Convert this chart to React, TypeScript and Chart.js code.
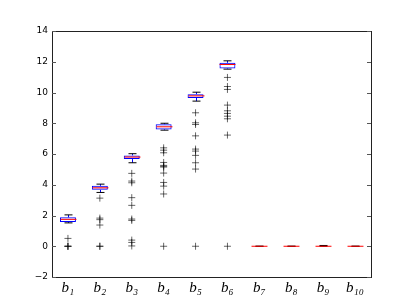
import React, { useEffect, useRef } from 'react';
import { Chart, registerables } from 'chart.js';

Chart.register(...registerables);

const categories = ['b₁', 'b₂', 'b₃', 'b₄', 'b₅', 'b₆', 'b₇', 'b₈', 'b₉', 'b₁₀'];
const whiskerLow = [1.52, 3.5, 5.43, 7.55, 9.44, 11.52, 0, 0, 0, 0];
const q1 = [1.58, 3.67, 5.67, 7.6, 9.65, 11.56, 0, 0, 0, 0];
const median = [1.75, 3.8, 5.8, 7.77, 9.78, 11.82, 0, 0, 0, 0];
const q3 = [1.88, 3.93, 5.91, 7.94, 9.89, 11.93, 0, 0, 0, 0];
const whiskerHigh = [2.04, 4.04, 6.02, 8.0, 10.02, 12.06, 0, 0, 0.05, 0];
const outliers: number[][] = [
  [0.51, 0, 0, 0],
  [3.13, 1.83, 1.73, 1.38, 0, 0],
  [4.74, 4.24, 4.13, 3.16, 2.66, 1.77, 1.68, 0.4, 0.25, 0.02],
  [6.4, 6.25, 6.08, 5.45, 5.26, 5.2, 5.15, 4.76, 4.15, 3.91, 3.4, 0],
  [8.68, 8.03, 7.92, 7.18, 6.32, 6.19, 5.91, 5.43, 5.02, 0],
  [10.98, 10.39, 10.2, 9.18, 8.81, 8.64, 8.46, 8.29, 7.23, 0],
  [],
  [],
  [],
  [],
];
const yMin = -2;
const yMax = 14;
const yStep = 2;

const boxParts = {
  id: 'boxParts',
  beforeDatasetsDraw(chart: any) {
    const { ctx, scales } = chart;
    const x = scales.x;
    const y = scales.y;
    const meta = chart.getDatasetMeta(0);
    ctx.save();
    ctx.lineWidth = 1;
    categories.forEach((_, i) => {
      const el = meta.data[i];
      const w = el ? el.width : 16;
      const cx = Math.round(x.getPixelForValue(i)) + 0.5;
      ctx.strokeStyle = '#0000ff';
      ctx.setLineDash([4, 2]);
      ctx.beginPath();
      ctx.moveTo(cx, y.getPixelForValue(q3[i]));
      ctx.lineTo(cx, y.getPixelForValue(whiskerHigh[i]));
      ctx.moveTo(cx, y.getPixelForValue(q1[i]));
      ctx.lineTo(cx, y.getPixelForValue(whiskerLow[i]));
      ctx.stroke();
      ctx.setLineDash([]);
      ctx.strokeStyle = '#000000';
      ctx.beginPath();
      const yh = y.getPixelForValue(whiskerHigh[i]);
      const yl = y.getPixelForValue(whiskerLow[i]);
      ctx.moveTo(cx - w / 4, yh);
      ctx.lineTo(cx + w / 4, yh);
      ctx.moveTo(cx - w / 4, yl);
      ctx.lineTo(cx + w / 4, yl);
      ctx.stroke();
    });
    ctx.restore();
  },
  afterDatasetsDraw(chart: any) {
    const { ctx, scales } = chart;
    const x = scales.x;
    const y = scales.y;
    const meta = chart.getDatasetMeta(0);
    ctx.save();
    ctx.lineWidth = 1;
    ctx.strokeStyle = '#ff0000';
    categories.forEach((_, i) => {
      const el = meta.data[i];
      const w = el ? el.width : 16;
      const cx = Math.round(x.getPixelForValue(i)) + 0.5;
      const ym = y.getPixelForValue(median[i]);
      ctx.beginPath();
      ctx.moveTo(cx - w / 2, ym);
      ctx.lineTo(cx + w / 2, ym);
      ctx.stroke();
    });
    ctx.restore();
  },
  afterDraw(chart: any) {
    const { ctx, chartArea, scales } = chart;
    const y = scales.y;
    const { left, right, top, bottom } = chartArea;
    ctx.save();
    ctx.strokeStyle = '#222222';
    ctx.lineWidth = 1;
    ctx.strokeRect(Math.round(left) + 0.5, Math.round(top) + 0.5, Math.round(right - left), Math.round(bottom - top));
    ctx.strokeStyle = '#555555';
    ctx.beginPath();
    for (let v = yMin; v <= yMax; v += yStep) {
      const py = Math.round(y.getPixelForValue(v)) + 0.5;
      ctx.moveTo(left, py);
      ctx.lineTo(left + 4, py);
      ctx.moveTo(right - 4, py);
      ctx.lineTo(right, py);
    }
    ctx.stroke();
    ctx.restore();
  },
};

export default function App() {
  const ref = useRef<HTMLCanvasElement | null>(null);
  useEffect(() => {
    if (!ref.current) return;
    const flierData: { x: string; y: number }[] = [];
    outliers.forEach((arr, i) => arr.forEach((v) => flierData.push({ x: categories[i], y: v })));
    const chart = new Chart(ref.current, {
      type: 'bar',
      data: {
        labels: categories,
        datasets: [
          {
            type: 'bar',
            data: categories.map((_, i) => [q1[i], q3[i]]) as any,
            backgroundColor: 'rgba(255,255,255,0)',
            borderColor: '#0000ff',
            borderWidth: 1,
            borderSkipped: false,
            barPercentage: 0.5,
            categoryPercentage: 1,
          } as any,
          {
            type: 'scatter',
            data: flierData as any,
            pointStyle: 'cross',
            radius: 3.5,
            borderColor: 'rgba(0,0,0,0.6)',
            backgroundColor: 'rgba(0,0,0,0.6)',
            borderWidth: 1,
            showLine: false,
          } as any,
        ],
      },
      options: {
        animation: false,
        responsive: false,
        devicePixelRatio: 1,
        layout: { padding: { left: 0, top: 31, right: 41, bottom: 0 } },
        plugins: { legend: { display: false }, tooltip: { enabled: false } },
        scales: {
          x: {
            type: 'category',
            offset: true,
            grid: { display: false, drawTicks: false },
            border: { display: false },
            ticks: {
              color: '#000',
              padding: 2,
              font: { family: 'Liberation Serif', style: 'italic', size: 15 },
              maxRotation: 0,
              autoSkip: false,
            },
            afterFit(axis: any) {
              axis.height = 31;
            },
          },
          y: {
            min: yMin,
            max: yMax,
            grid: { display: false, drawTicks: false },
            border: { display: false },
            ticks: {
              stepSize: yStep,
              color: '#000',
              padding: 4,
              font: { family: 'DejaVu Sans', size: 9 },
              callback: (v: any) => (Number(v) < 0 ? '\u2212' + Math.abs(Number(v)) : String(v)),
            },
            afterFit(axis: any) {
              axis.width = 52;
            },
          },
        },
      },
      plugins: [boxParts],
    });
    return () => chart.destroy();
  }, []);
  return (
    <div style={{ position: 'fixed', left: 0, top: 0, width: 412, height: 308, background: '#fff' }}>
      <canvas ref={ref} width={412} height={308} style={{ display: 'block' }} />
    </div>
  );
}
